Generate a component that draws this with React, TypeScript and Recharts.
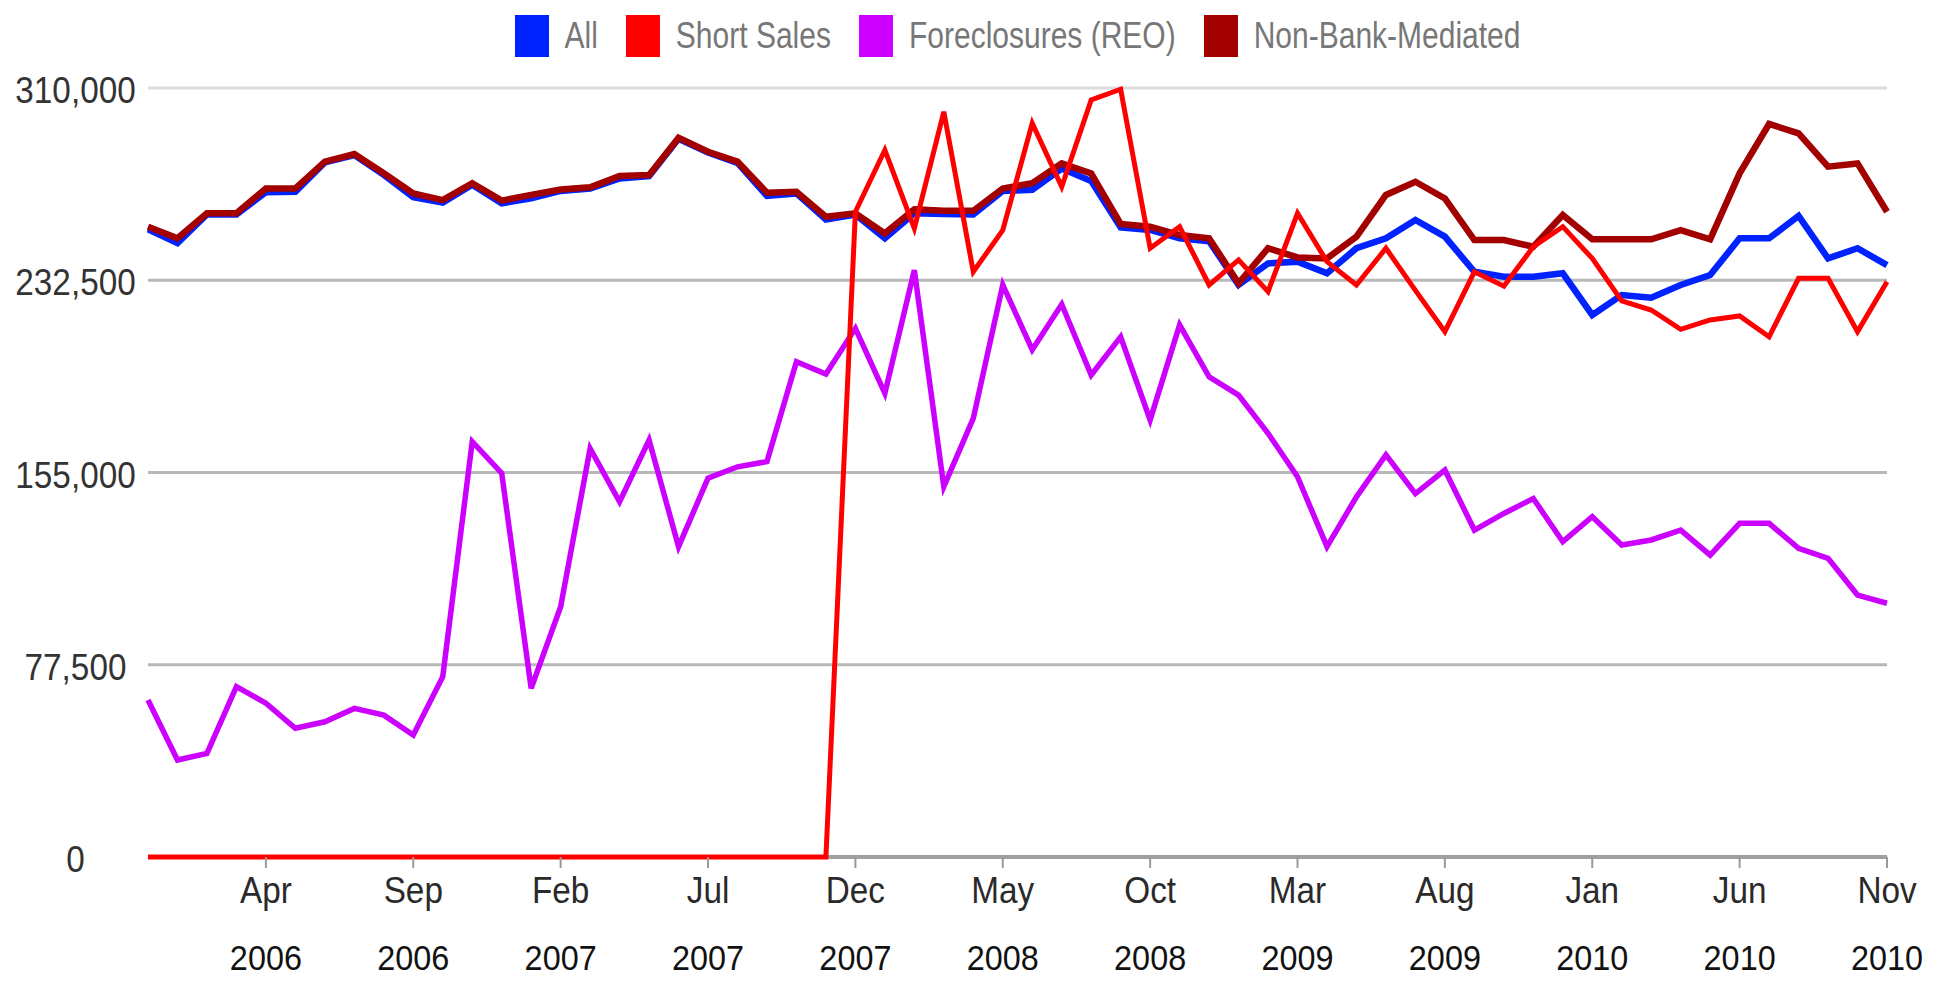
import React from "react";
import { LineChart, Line, XAxis, YAxis, ReferenceLine } from "recharts";

const months = [
  "Dec 2005",
  "Jan 2006", "Feb 2006", "Mar 2006", "Apr 2006", "May 2006", "Jun 2006", "Jul 2006", "Aug 2006", "Sep 2006", "Oct 2006", "Nov 2006", "Dec 2006",
  "Jan 2007", "Feb 2007", "Mar 2007", "Apr 2007", "May 2007", "Jun 2007", "Jul 2007", "Aug 2007", "Sep 2007", "Oct 2007", "Nov 2007", "Dec 2007",
  "Jan 2008", "Feb 2008", "Mar 2008", "Apr 2008", "May 2008", "Jun 2008", "Jul 2008", "Aug 2008", "Sep 2008", "Oct 2008", "Nov 2008", "Dec 2008",
  "Jan 2009", "Feb 2009", "Mar 2009", "Apr 2009", "May 2009", "Jun 2009", "Jul 2009", "Aug 2009", "Sep 2009", "Oct 2009", "Nov 2009", "Dec 2009",
  "Jan 2010", "Feb 2010", "Mar 2010", "Apr 2010", "May 2010", "Jun 2010", "Jul 2010", "Aug 2010", "Sep 2010", "Oct 2010", "Nov 2010",
];

const allSales = [
  253000, 247500, 259000, 259000, 268000, 268200, 280000, 283000, 275000, 266000,
  263800, 271000, 263500, 265500, 268500, 269500, 273500, 274500, 289500, 284000,
  279800, 266500, 267500, 257000, 259000, 249400, 259500, 259200, 259000, 268500,
  269000, 277500, 272500, 253800, 252800, 249400, 248200, 230600, 239300, 240000,
  235300, 245400, 249400, 256800, 250100, 235900, 233900, 233900, 235300, 218500,
  226500, 225500, 230600, 234600, 249400, 249400, 258400, 241300, 245400, 238600,
];

const shortSales = [
  0, 0, 0, 0, 0, 0, 0, 0, 0, 0,
  0, 0, 0, 0, 0, 0, 0, 0, 0, 0,
  0, 0, 0, 0, 260100, 285000, 253400, 300400, 235900, 252700,
  295800, 270200, 305200, 309500, 245400, 254100, 230600, 240700, 227900, 259500,
  240000, 230600, 245400, 228400, 211800, 235900, 230100, 246000, 254100, 241300,
  224200, 220500, 212700, 216500, 218100, 209700, 233300, 233300, 211800, 231900,
];

const foreclosures = [
  63300, 39100, 41800, 68700, 62000, 51900, 54500, 59900, 57200, 49200,
  72700, 167400, 154700, 68000, 100900, 164700, 143200, 168100, 125100, 152700,
  157300, 159400, 199700, 194700, 213100, 186900, 236600, 149300, 176800, 230600,
  204500, 222800, 194300, 209700, 176200, 214500, 193600, 186200, 170800, 153300,
  125100, 145200, 162100, 146500, 156000, 131800, 138500, 144500, 127100, 137200,
  125800, 127800, 131800, 121700, 134500, 134500, 124400, 120400, 105600, 102300,
];

const nonBank = [
  254100, 249400, 259500, 259500, 269500, 269500, 280300, 283400, 275600, 267500,
  264800, 271600, 264600, 266900, 269100, 270000, 274500, 274900, 289900, 284300,
  280300, 267800, 268200, 258100, 259500, 251400, 261100, 260500, 260500, 269500,
  271600, 279600, 275600, 255200, 254100, 250700, 249400, 231300, 245400, 241700,
  241300, 250100, 266900, 272200, 265500, 248700, 248700, 246000, 258800, 249000,
  249000, 249000, 252700, 249000, 275600, 295500, 291700, 278300, 279600, 260100,
];

const xTickLabels = [
  "Apr 2006", "Sep 2006", "Feb 2007", "Jul 2007", "Dec 2007", "May 2008",
  "Oct 2008", "Mar 2009", "Aug 2009", "Jan 2010", "Jun 2010", "Nov 2010",
];

const yTicks = [0, 77500, 155000, 232500, 310000];

const seriesNames = ["All", "Short Sales", "Foreclosures (REO)", "Non-Bank-Mediated"];
const seriesColors = ["#0022ff", "#ff0000", "#cc00ff", "#a30000"];

const data = months.map((m, i) => ({
  month: m,
  all: allSales[i],
  shortSales: shortSales[i],
  foreclosures: foreclosures[i],
  nonBank: nonBank[i],
}));

const FONT = "'Liberation Sans', Arial, sans-serif";

const fmt = (v: number) => v.toLocaleString("en-US");

const XTick = (props: any) => {
  const { x, y, payload } = props;
  if (!xTickLabels.includes(payload.value)) return null;
  const [mon, yr] = String(payload.value).split(" ");
  return (
    <g>
      <line x1={x} y1={y} x2={x} y2={y + 11} stroke="#9a9a9a" strokeWidth={2} />
      <g transform={`translate(${x},${y + 46}) scale(0.9,1)`}>
        <text x={0} y={0} textAnchor="middle" fontFamily={FONT} fontSize={37} fill="#2a2a2a">
          {mon}
        </text>
      </g>
      <g transform={`translate(${x},${y + 113}) scale(0.9,1)`}>
        <text x={0} y={0} textAnchor="middle" fontFamily={FONT} fontSize={36} fill="#111">
          {yr}
        </text>
      </g>
    </g>
  );
};

const YTick = (props: any) => {
  const { y, payload } = props;
  return (
    <g transform={`translate(67.5,${y + 15}) scale(0.9,1)`}>
      <text x={0} y={0} textAnchor="middle" fontFamily={FONT} fontSize={37} fill="#333">
        {fmt(payload.value)}
      </text>
    </g>
  );
};

export default function App() {
  return (
    <div style={{ position: "relative", width: 1920, height: 970 }}>
      <div
        style={{
          position: "absolute",
          left: 140,
          width: 1739,
          top: 7,
          height: 42,
          display: "flex",
          justifyContent: "center",
          alignItems: "center",
          fontFamily: FONT,
          fontSize: 30,
          color: "#777",
          zIndex: 2,
        }}
      >
        {seriesNames.map((n, i) => (
          <div key={n} style={{ display: "flex", alignItems: "center", marginLeft: i === 0 ? 0 : 28 }}>
            <div style={{ width: 34, height: 42, background: seriesColors[i], marginRight: 16 }} />
            <span
              style={{
                display: "inline-block",
                lineHeight: "42px",
                whiteSpace: "nowrap",
                transform: "scaleY(1.22)",
              }}
            >
              {n}
            </span>
          </div>
        ))}
      </div>
      <LineChart
        width={1920}
        height={970}
        data={data}
        margin={{ top: 80, right: 41, bottom: 1, left: 0 }}
      >
        {yTicks.map((v, i) => (
          <ReferenceLine
            key={v}
            y={v}
            stroke={i === 0 ? "#a0a0a0" : i === yTicks.length - 1 ? "#dcdcdc" : "#b8b8b8"}
            strokeWidth={i === 0 ? 4 : 3}
          />
        ))}
        <XAxis
          dataKey="month"
          interval={0}
          tickLine={false}
          axisLine={false}
          tickSize={0}
          tickMargin={0}
          height={120}
          tick={<XTick />}
        />
        <YAxis
          domain={[0, 310000]}
          ticks={yTicks}
          width={140}
          axisLine={false}
          tickLine={false}
          tick={<YTick />}
        />
        <Line type="linear" dataKey="all" stroke={seriesColors[0]} strokeWidth={6.5} dot={false} isAnimationActive={false} />
        <Line type="linear" dataKey="nonBank" stroke={seriesColors[3]} strokeWidth={6.5} dot={false} isAnimationActive={false} />
        <Line type="linear" dataKey="foreclosures" stroke={seriesColors[2]} strokeWidth={5.5} dot={false} isAnimationActive={false} />
        <Line type="linear" dataKey="shortSales" stroke={seriesColors[1]} strokeWidth={5} dot={false} isAnimationActive={false} />
      </LineChart>
    </div>
  );
}
